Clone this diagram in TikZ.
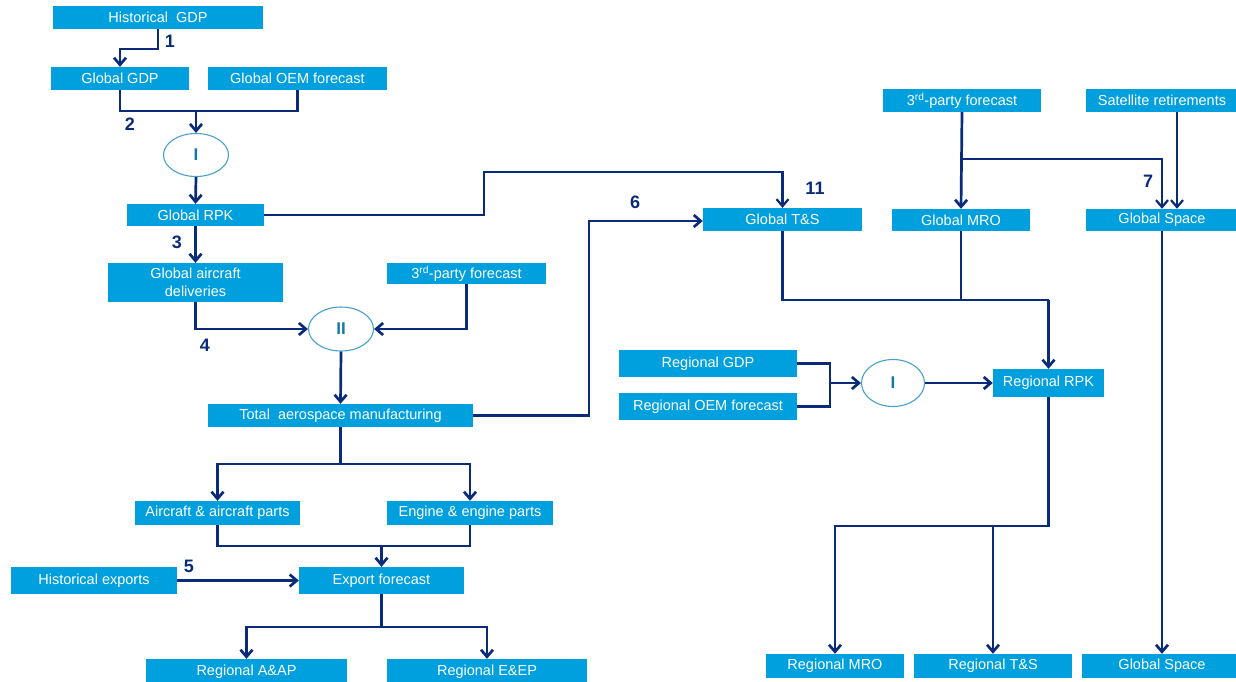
\documentclass[tikz,border=0pt]{standalone}
\usepackage{fontspec}
\setmainfont{Liberation Sans}
\usetikzlibrary{arrows.meta,shapes.geometric}
\definecolor{boxblue}{RGB}{0,160,222}
\definecolor{navy}{RGB}{10,42,122}
\definecolor{ellline}{RGB}{70,160,205}
\definecolor{elltext}{RGB}{20,120,170}
\tikzset{
 box/.style={fill=boxblue, text=white, inner sep=0pt, font=\fontsize{14.5}{17.5}\selectfont, align=center},
 ell/.style={ellipse, draw=ellline, line width=1.1pt, inner sep=0pt, text=elltext, font=\fontsize{17}{17}\selectfont\bfseries},
 conn/.style={draw=navy, line width=2.7pt},
 arr/.style={conn, -{Straight Barb[length=7pt,width=12pt]}},
 thin/.style={line width=2.2pt},
 num/.style={text=navy, font=\fontsize{18}{18}\selectfont\bfseries, inner sep=0pt},
}
\begin{document}
\begin{tikzpicture}[x=1pt,y=-1pt]
\useasboundingbox (0,0) rectangle (1236,681);
% boxes
\node[box, minimum width=210pt, minimum height=23pt] (hgdp) at (158,17.5) {Historical~ GDP};
\node[box, minimum width=138pt, minimum height=23pt] (ggdp) at (120,78.5) {Global GDP};
\node[box, minimum width=179pt, minimum height=23pt] (goem) at (297.5,78.5) {Global OEM forecast};
\node[ell, minimum width=65pt, minimum height=43pt] (ell1) at (196,155) {I};
\node[box, minimum width=137pt, minimum height=22pt] (grpk) at (195.5,215) {Global RPK};
\node[box, minimum width=175pt, minimum height=39pt] (gad) at (195.5,282.5) {Global aircraft\\deliveries};
\node[box, minimum width=159pt, minimum height=21pt] (tpf1) at (466.5,273.5) {3\textsuperscript{rd}-party forecast};
\node[ell, minimum width=65pt, minimum height=44pt] (ell2) at (341,329) {II};
\node[box, minimum width=265pt, minimum height=23pt] (tam) at (340.5,415.5) {Total~ aerospace manufacturing};
\node[box, minimum width=165pt, minimum height=24pt] (aap) at (217.5,513) {Aircraft \& aircraft parts};
\node[box, minimum width=166pt, minimum height=24pt] (eep) at (470,513) {Engine \& engine parts};
\node[box, minimum width=166pt, minimum height=27pt] (hexp) at (94,580.5) {Historical exports};
\node[box, minimum width=165pt, minimum height=27pt] (expf) at (381.5,580.5) {Export forecast};
\node[box, minimum width=201pt, minimum height=25pt] (raap) at (246.5,671.5) {Regional A\&AP};
\node[box, minimum width=200pt, minimum height=25pt] (reep) at (487,671.5) {Regional E\&EP};
\node[box, minimum width=159pt, minimum height=23pt] (gts) at (782.5,219.5) {Global T\&S};
\node[box, minimum width=138pt, minimum height=22pt] (gmro) at (961,220) {Global MRO};
\node[box, minimum width=152pt, minimum height=22pt] (gsp) at (1162,220) {Global Space};
\node[box, minimum width=158pt, minimum height=23pt] (tpf2) at (962,100.5) {3\textsuperscript{rd}-party forecast};
\node[box, minimum width=152pt, minimum height=23pt] (sat) at (1162,100.5) {Satellite retirements};
\node[box, minimum width=178pt, minimum height=27pt] (rgdp) at (708,363.5) {Regional GDP};
\node[box, minimum width=178pt, minimum height=27pt] (roem) at (708,406.5) {Regional OEM forecast};
\node[ell, minimum width=63pt, minimum height=47pt] (ell3) at (893,383) {I};
\node[box, minimum width=111pt, minimum height=28pt] (rrpk) at (1048.5,383) {Regional RPK};
\node[box, minimum width=138pt, minimum height=24pt] (rmro) at (835,666) {Regional MRO};
\node[box, minimum width=158pt, minimum height=24pt] (rts) at (993,666) {Regional T\&S};
\node[box, minimum width=160pt, minimum height=24pt] (gsp2) at (1162,666) {Global Space};
% number labels
\node[num] (n1) at (170,41) {1};
\node[num] (n2) at (130,124) {2};
\node[num] (n3) at (177,242) {3};
\node[num] (n4) at (205,345) {4};
\node[num] (n5) at (189,566) {5};
\node[num] (n6) at (635,202) {6};
\node[num] (n7) at (1148,181) {7};
\node[num] (n11) at (815,188) {11};
% helper coordinates
\coordinate (j1) at (158,49);
\coordinate (j2) at (196,111);
\coordinate (c4) at (484,172);
\coordinate (c9) at (589,221);
\coordinate (j10) at (340.5,464);
\coordinate (j11) at (381.5,546);
\coordinate (j13) at (381.5,627);
\coordinate (j14) at (962,159);
\coordinate (xs) at (1177,0);
\coordinate (j15) at (1048.5,300);
\coordinate (j16) at (830,383);
\coordinate (c18) at (0,526);
% connectors
\draw[arr] (hgdp.south) -- (j1) -| (ggdp.north);
\draw[conn] (ggdp.south) |- (j2);
\draw[conn] (goem.south) |- (j2);
\draw[arr] (j2) -- (ell1.north);
\draw[arr] (ell1.south) -- (grpk.north);
\draw[arr, thin] (grpk.east) -| (c4) -| (gts.north);
\draw[arr] (grpk.south) -- (gad.north);
\draw[arr] (gad.south) |- (ell2.west);
\draw[arr] (tpf1.south) |- (ell2.east);
\draw[arr] (ell2.south) -- (tam.north);
\draw[arr] (tam.east) -| (c9) -- (gts.west |- c9);
\draw[conn] (tam.south) -- (j10);
\draw[arr] (j10) -| (aap.north);
\draw[arr] (j10) -| (eep.north);
\draw[conn] (aap.south) |- (j11);
\draw[conn] (eep.south) |- (j11);
\draw[arr] (j11) -- (expf.north);
\draw[arr] (hexp.east) -- (expf.west);
\draw[conn] (expf.south) -- (j13);
\draw[arr] (j13) -| (raap.north);
\draw[arr] (j13) -| (reep.north);
\draw[arr] (tpf2.south) -- (gmro.north);
\draw[arr, thin] (j14) -| (gsp.north);
\draw[arr, thin] (sat.south -| xs) -- (gsp.north -| xs);
\draw[conn] (gts.south) |- (j15);
\draw[conn] (gmro.south) -- (gmro.south |- j15);
\draw[arr] (j15) -- (rrpk.north);
\draw[conn] (rgdp.east) -| (j16);
\draw[conn] (roem.east) -| (j16);
\draw[arr] (j16) -- (ell3.west);
\draw[arr] (ell3.east) -- (rrpk.west);
\draw[arr] (rrpk.south) |- (rmro.north |- c18) -- (rmro.north);
\draw[arr] (rts.north |- c18) -- (rts.north);
\draw[arr] (gsp.south) -- (gsp2.north);
\end{tikzpicture}
\end{document}
